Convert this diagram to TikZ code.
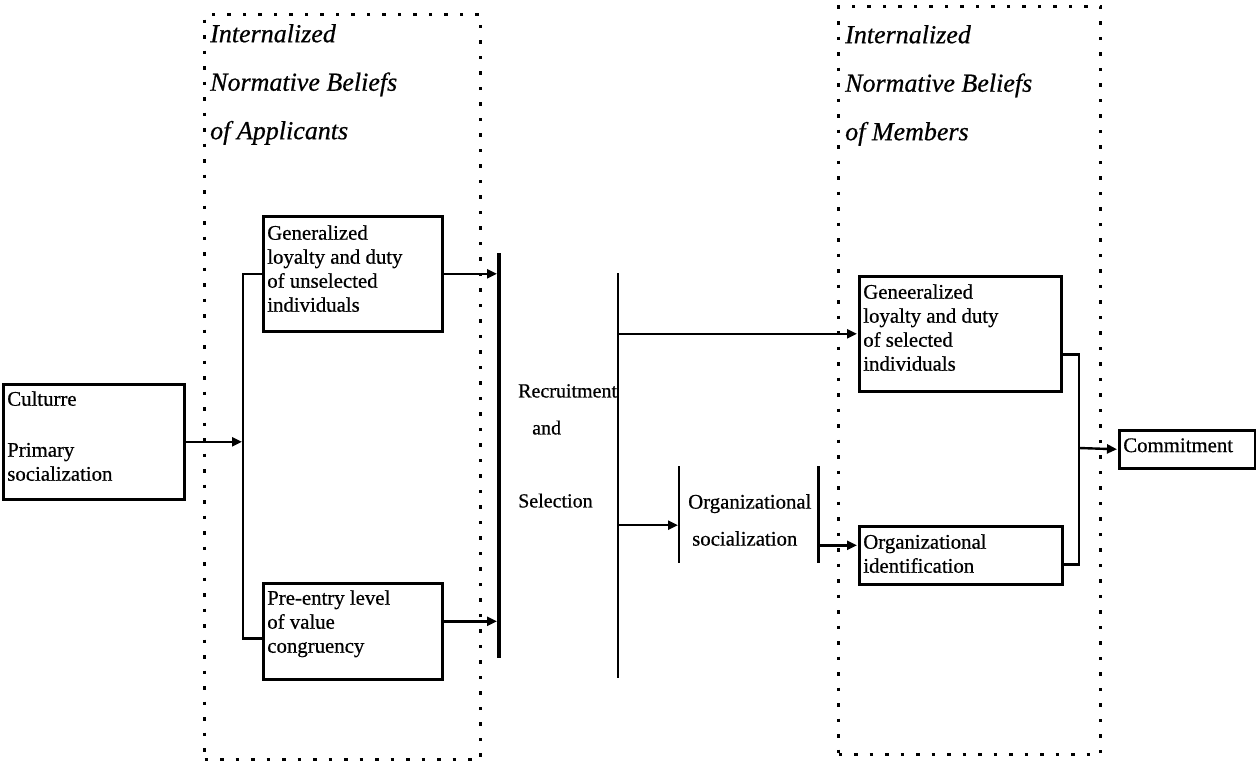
\documentclass[tikz,border=0pt]{standalone}
\usepackage{fontspec}
\setmainfont{Liberation Serif}[FakeBold=0.6]
\usetikzlibrary{arrows.meta,calc}

% top-aligned text block: width, height, gap above first line, lines
\newcommand{\cellbody}[4]{\parbox[t][#2][t]{#1}{\raggedright\setlength{\leftskip}{4pt}\vspace*{#3}#4}}

\tikzset{
  cell/.style={draw, line width=2.6pt, inner sep=0pt, anchor=north west},
  plain/.style={inner sep=0pt, anchor=north west},
  dotbox/.style={draw, line width=3.2pt, dash pattern=on 3.5pt off 12pt, inner sep=0pt, anchor=north west},
  title/.style={plain, font=\itshape\fontsize{26}{48.5}\selectfont},
  conn/.style={line width=2.4pt},
  bar/.style={line width=2.6pt},
  thickbar/.style={line width=4.5pt},
  arr/.style={conn, -{Triangle[length=10pt,width=9pt]}},
}

\begin{document}
\begin{tikzpicture}[x=1pt, y=-1pt, font=\fontsize{20.8}{24}\selectfont]
\useasboundingbox (0,0) rectangle (1256,763);

% dotted frames with their headings
\node[dotbox, minimum width=276pt, minimum height=745pt] (appl) at (203,13) {};
\node[dotbox, minimum width=262pt, minimum height=748pt] (memb) at (837,5) {};
\node[title] (tappl) at (206,24) {\cellbody{250pt}{130pt}{0pt}{Internalized\\Normative Beliefs\\of Applicants}};
\node[title] (tmemb) at (841,25) {\cellbody{250pt}{130pt}{0pt}{Internalized\\Normative Beliefs\\of Members}};

% boxes
\node[cell] (culture) at (2,383) {\cellbody{181pt}{115pt}{7pt}{Culturre\\[27pt]Primary\\socialization}};
\node[cell] (g1) at (262,215) {\cellbody{179pt}{115pt}{9pt}{Generalized\\loyalty and duty\\of unselected\\individuals}};
\node[cell] (pe) at (262,582) {\cellbody{179pt}{96pt}{7pt}{Pre-entry level\\of value\\congruency}};
\node[cell] (g2) at (858,275) {\cellbody{202pt}{115pt}{8pt}{Geneeralized\\loyalty and duty\\of selected\\individuals}};
\node[cell] (oi) at (858,525) {\cellbody{203pt}{58pt}{8pt}{Organizational\\identification}};
\node[cell] (commit) at (1118,429) {\cellbody{136pt}{38pt}{8pt}{Commitment}};

% stage labels
\node[plain, font=\fontsize{20}{24}\selectfont] (rs) at (514,384) {\cellbody{104pt}{130pt}{0pt}{Recruitment\\[13pt]\hspace*{14pt}and\\[49pt]Selection}};
\node[plain, minimum width=139pt, minimum height=97pt] (orgsoc) at (679,466) {\cellbody{139pt}{97pt}{28pt}{\hspace*{5pt}Organizational\\[13pt]\hspace*{9pt}socialization}};

% bars
\coordinate (b1t) at (499,253);
\coordinate (b1b) at (499,658);
\coordinate (b2t) at (618,273);
\coordinate (b2b) at (618,678);
\draw[thickbar] (b1t) -- (b1b);
\draw[bar] (b2t) -- (b2b);
\draw[bar] (orgsoc.north west) -- (orgsoc.south west);
\draw[bar] (orgsoc.north east) -- (orgsoc.south east);

% left fork
\coordinate (split) at (243,440);
\draw[conn] (g1.west) -| (split) |- ([yshift=-7pt]pe.west);
\draw[arr, shorten >=1pt] (culture.east) -- (culture.east -| split);

% into the selection bar
\draw[arr, shorten >=2pt] (g1.east) -- (g1.east -| b1t);
\coordinate (peout) at ([yshift=10pt]pe.east);
\draw[arr, shorten >=2pt] (peout) -- (peout -| b1t);

% out of selection
\draw[arr, shorten >=1pt] (g2.west -| b2t) -- (g2.west);
\coordinate (osin) at ([yshift=-10.5pt]orgsoc.west);
\draw[arr, shorten >=1pt] (osin -| b2t) -- (osin);
\coordinate (oiin) at ([yshift=10pt]oi.west);
\draw[arr, shorten >=1pt] (oiin -| orgsoc.east) -- (oiin);

% right join
\coordinate (join) at (1079,448);
\draw[conn] ([yshift=-20.5pt]g2.east) -| (join) |- ([yshift=-9pt]oi.east);
\draw[arr, shorten >=1pt] (join) -- (commit.west);
\end{tikzpicture}
\end{document}
